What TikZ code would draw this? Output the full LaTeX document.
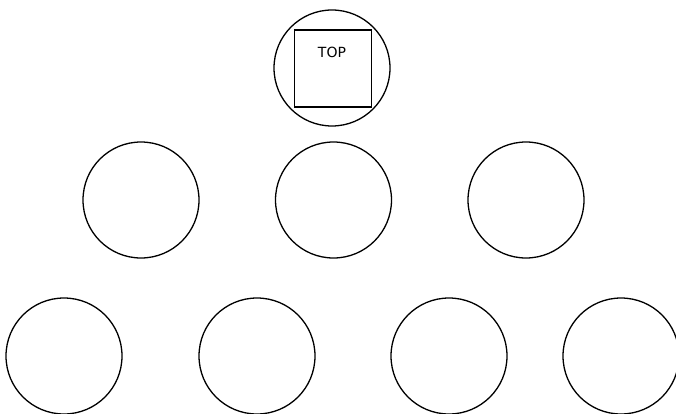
\documentclass[tikz,border=0pt]{standalone}
\usepackage{fontspec}
\setmainfont{DejaVu Sans}
\begin{document}
\begin{tikzpicture}[x=1pt,y=-1pt,
  ring/.style={draw=black,line width=1.3pt,circle,minimum size=116pt,inner sep=0pt},
  topbox/.style={draw=black,line width=1.3pt,rectangle,minimum width=77pt,minimum height=77pt,inner sep=0pt},
  lbl/.style={font=\fontsize{14}{16}\selectfont,inner sep=0pt}]
\useasboundingbox (0,0) rectangle (676,414);
\node[ring] (t) at (332,68) {};
\node[topbox] (tb) at (333,68.5) {};
\node[lbl] (tl) at (332,52) {TOP};
\node[ring] (a1) at (141,200) {};
\node[ring] (a2) at (333.5,200) {};
\node[ring] (a3) at (526,200) {};
\node[ring] (b1) at (64,356) {};
\node[ring] (b2) at (257,356) {};
\node[ring] (b3) at (449,356) {};
\node[ring] (b4) at (621,356) {};
\end{tikzpicture}
\end{document}
